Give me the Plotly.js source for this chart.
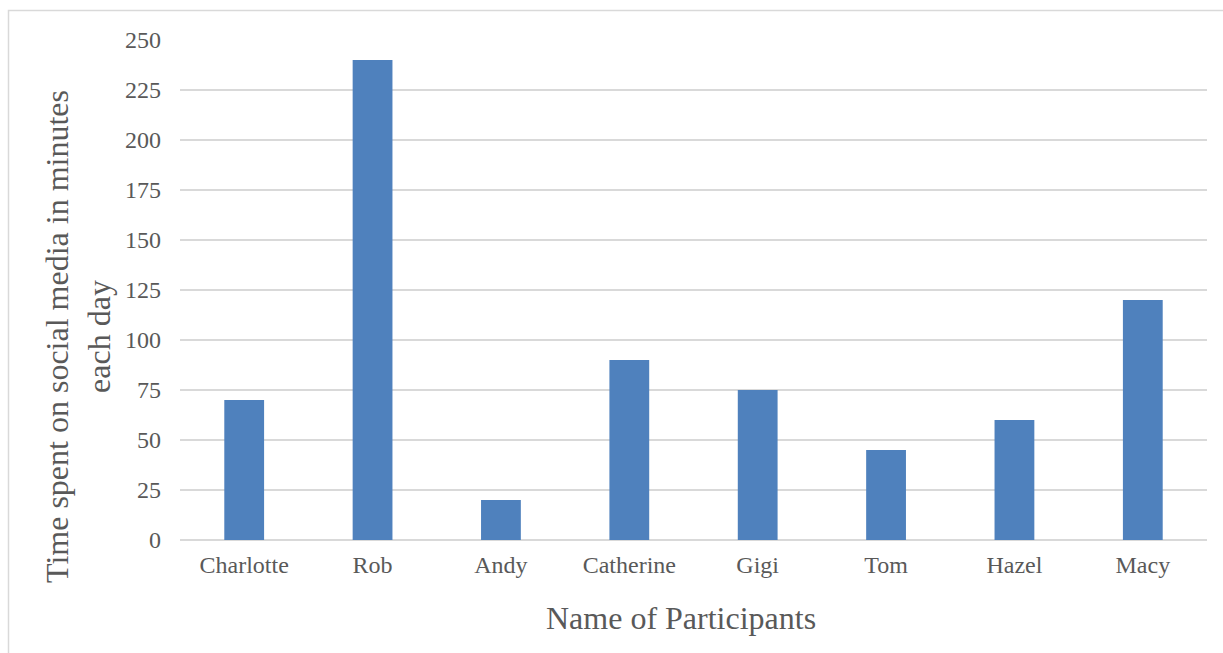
<!DOCTYPE html>
<html>
<head>
<meta charset="utf-8">
<script src="https://cdn.plot.ly/plotly-3.0.1.min.js"></script>
<style>html,body{margin:0;padding:0;background:#fff;}#chart{width:1223px;height:653px;}</style>
</head>
<body>
<div id="chart"></div>
<script>
const participants = ["Charlotte", "Rob", "Andy", "Catherine", "Gigi", "Tom", "Hazel", "Macy"];
const minutesPerDay = [70, 240, 20, 90, 75, 45, 60, 120];
const yTickValues = [0, 25, 50, 75, 100, 125, 150, 175, 200, 225, 250];

const FONT = "Liberation Serif, Times New Roman, serif";
const TXT = "#595959";

const trace = {
  type: "bar",
  x: participants,
  y: minutesPerDay,
  marker: {color: "#4F81BD", line: {width: 0}},
  hoverinfo: "x+y"
};

const layout = {
  width: 1223, height: 653,
  margin: {l: 180, r: 16, t: 40, b: 113},
  paper_bgcolor: "#ffffff",
  plot_bgcolor: "#ffffff",
  font: {family: FONT, color: TXT, size: 24},
  bargap: 0.69,
  showlegend: false,
  xaxis: {
    type: "category",
    showgrid: false,
    showline: false,
    zeroline: false,
    ticks: "",
    ticklabelstandoff: 8,
    tickfont: {family: FONT, size: 24, color: TXT}
  },
  yaxis: {
    range: [0, 250],
    tickvals: yTickValues,
    ticktext: yTickValues.map(String),
    showgrid: true,
    gridcolor: "#D9D9D9",
    gridwidth: 1.5,
    zeroline: true,
    zerolinecolor: "#D9D9D9",
    zerolinewidth: 1.5,
    showline: false,
    ticks: "",
    ticklabelstandoff: 18,
    tickfont: {family: FONT, size: 24, color: TXT}
  },
  annotations: [
    {
      text: "Name of Participants",
      xref: "paper", yref: "paper",
      x: (681 - 180) / 1027, y: (540 - 618) / 500,
      xanchor: "center", yanchor: "middle",
      showarrow: false,
      font: {family: FONT, size: 32, color: TXT}
    },
    {
      text: "Time spent on social media in minutes<br>each day",
      xref: "paper", yref: "paper",
      x: (78 - 180) / 1027, y: (540 - 337) / 500,
      xanchor: "center", yanchor: "middle",
      textangle: -90,
      showarrow: false,
      font: {family: FONT, size: 32, color: TXT}
    }
  ],
  shapes: [
    {
      type: "rect", xref: "paper", yref: "paper",
      x0: (8.5 - 180) / 1027, x1: 1.2,
      y0: -0.5, y1: (540 - 10.5) / 500,
      line: {color: "#D9D9D9", width: 1.5},
      fillcolor: "rgba(0,0,0,0)",
      layer: "below"
    }
  ]
};

Plotly.newPlot("chart", [trace], layout, {displayModeBar: false, responsive: false});
</script>
</body>
</html>
